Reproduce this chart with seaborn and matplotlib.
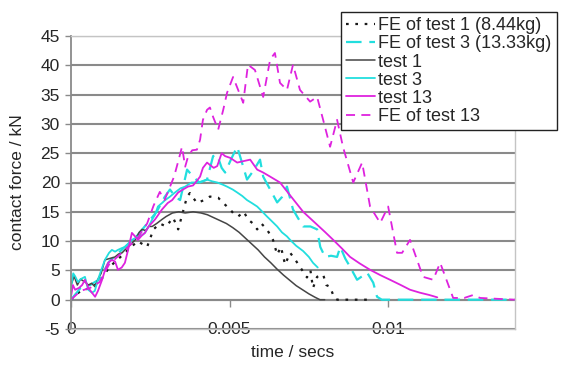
import matplotlib
matplotlib.use("Agg")
import matplotlib.pyplot as plt
import seaborn as sns
import numpy as np

# ---------------- data (time in seconds, force in kN) ----------------
t_test1 = [0, 0.0001, 0.0002, 0.0003, 0.00045, 0.00055, 0.00065, 0.00076, 0.00085, 0.00095,
           0.00107, 0.0012, 0.00139, 0.0015, 0.00161, 0.0017, 0.0018, 0.0019, 0.00202, 0.00215,
           0.00224, 0.00235, 0.00245, 0.00256, 0.0027, 0.00287, 0.003, 0.0032, 0.0034, 0.0036,
           0.00385, 0.0041, 0.0043, 0.0045, 0.0047, 0.0049, 0.0051, 0.0053, 0.0055, 0.0057,
           0.0059, 0.0061, 0.0063, 0.0065, 0.0067, 0.0069, 0.0071, 0.0073, 0.0075, 0.0077,
           0.00785, 0.008]
f_test1 = [2.5, 4, 2.5, 3.5, 3, 2.5, 2.8, 2.2, 3.5, 4.5,
           6.8, 7, 7.3, 7.8, 8, 8.5, 9, 9.5, 10.2, 11.5,
           12, 11.8, 12.5, 12.5, 13, 13.7, 14.2, 14.8, 15, 14.8,
           15, 14.8, 14.5, 14, 13.5, 13, 12.3, 11.5, 10.5, 9.5,
           8.5, 7.3, 6.3, 5.2, 4.2, 3.3, 2.4, 1.7, 1, 0.4,
           0, 0]

t_test3 = [0, 0.00007, 0.00013, 0.00022, 0.0003, 0.00044, 0.00054, 0.00066, 0.00075, 0.00085,
           0.00095, 0.00107, 0.0012, 0.00129, 0.00139, 0.00148, 0.0016, 0.0017, 0.0018, 0.00192,
           0.00202, 0.00211, 0.00224, 0.00233, 0.00245, 0.00256, 0.00265, 0.00274, 0.00287, 0.00297,
           0.0031, 0.00328, 0.00345, 0.0036, 0.0038, 0.00397, 0.00415, 0.00429, 0.00445, 0.00461,
           0.0048, 0.00492, 0.0051, 0.00524, 0.0054, 0.00555, 0.0057, 0.00587, 0.006, 0.00618,
           0.00635, 0.0065, 0.00665, 0.00681, 0.00691, 0.0071, 0.00732, 0.0075, 0.00763, 0.00778]
f_test3 = [2, 4.5, 4, 3, 3.5, 3.9, 1.7, 1.2, 1.5, 3.4,
           5, 6.8, 8, 8.5, 8.2, 8.5, 8.8, 9, 9.5, 10.2,
           10.5, 10.8, 11, 11.4, 12.5, 13.7, 14.5, 15.9, 16.5, 17,
           17.5, 18.3, 19, 19.3, 20, 20, 20.2, 20.5, 20.2, 20,
           19.6, 19.3, 18.8, 18.3, 17.7, 17, 16.5, 15.9, 15.2, 14.2,
           13.3, 12.5, 11.5, 10.8, 10.2, 9.2, 8.3, 7.3, 6.3, 5.5]

t_test13 = [0, 0.00006, 0.00013, 0.00025, 0.00035, 0.00044, 0.00055, 0.00066, 0.00076, 0.00085,
            0.00098, 0.00107, 0.00117, 0.00129, 0.00139, 0.00148, 0.0016, 0.0017, 0.0018, 0.00192,
            0.00202, 0.00211, 0.00224, 0.00233, 0.00245, 0.00265, 0.00287, 0.00305, 0.00319, 0.00338,
            0.00353, 0.00369, 0.00385, 0.00397, 0.00407, 0.00416, 0.00429, 0.00438, 0.0045, 0.00461,
            0.00475, 0.00486, 0.00502, 0.00524, 0.0054, 0.00565, 0.00587, 0.00606, 0.00628, 0.00659,
            0.00691, 0.00713, 0.00732, 0.00754, 0.00776, 0.008, 0.00827, 0.00855, 0.0088, 0.0091,
            0.00943, 0.00975, 0.01006, 0.0104, 0.01069, 0.011, 0.0113, 0.01155]
f_test13 = [0.5, 2.5, 1.7, 2, 2.5, 3.4, 2, 1.2, 0.5, 1.5,
            3.4, 5, 6.3, 6.8, 6.5, 5.1, 5.5, 6.3, 8.5, 11.4,
            10.8, 10.2, 11, 11.4, 12.5, 13.7, 15.4, 16.5, 17, 18.3,
            18.8, 19.3, 19.5, 20.3, 21, 22.5, 23.4, 23.0, 22.5, 22.8,
            25, 24.5, 24.2, 23.4, 23.6, 23.9, 22.2, 21.7, 21, 20,
            17.8, 16.3, 15, 13.9, 12.8, 11.6, 10.2, 8.7, 7.3, 6.2,
            5.1, 4.2, 3.4, 2.5, 1.7, 1.2, 0.8, 0.4]

t_fe1 = [0, 0.0003, 0.0006, 0.0009, 0.0012, 0.0015, 0.0018, 0.0021, 0.0024, 0.0026,
         0.0028, 0.003, 0.00322, 0.00338, 0.00366, 0.00375, 0.00397, 0.0042, 0.00438, 0.00464,
         0.0048, 0.00502, 0.00511, 0.00527, 0.00545, 0.00558, 0.00574, 0.00587, 0.006, 0.00618,
         0.00637, 0.0065, 0.00662, 0.00675, 0.00691, 0.00705, 0.00722, 0.00744, 0.00755, 0.00763,
         0.00776, 0.00795, 0.00805, 0.00817, 0.0083, 0.0084, 0.0095]
f_fe1 = [0, 1.5, 2, 3, 5.5, 7, 8.5, 10, 9, 12,
         13, 12.5, 14, 12, 17.6, 18.2, 16.5, 17, 17.6, 17.4,
         16.5, 15.4, 14.8, 14.2, 15, 13.7, 13, 12, 13, 12,
         10.2, 7.7, 9, 6, 8, 7, 5.6, 3.8, 5, 2,
         3.9, 4.3, 2.5, 2.2, 0.3, 0, 0]

t_fe3 = [0, 0.0003, 0.0006, 0.0009, 0.0012, 0.0015, 0.0018, 0.0021, 0.0024, 0.0027,
         0.00295, 0.00312, 0.0033, 0.00344, 0.00366, 0.00385, 0.00405, 0.00429, 0.00448, 0.00461,
         0.00475, 0.00486, 0.00505, 0.00524, 0.00543, 0.00555, 0.00575, 0.00596, 0.00606, 0.00628,
         0.0065, 0.00665, 0.00681, 0.007, 0.00715, 0.00732, 0.00755, 0.00776, 0.00786, 0.00801,
         0.0082, 0.00839, 0.00849, 0.00865, 0.0088, 0.00902, 0.00918, 0.00934, 0.00953, 0.00965,
         0.0098, 0.014]
f_fe3 = [0, 2, 2.5, 3.5, 6.5, 8, 9.5, 11, 13, 15,
         17.5, 18.8, 17.5, 17, 22.2, 21, 20, 20.5, 24.5, 24.7,
         22.5, 21.7, 24, 26.1, 22.7, 20.5, 22, 23.9, 21, 18.8,
         16.6, 17.5, 19.3, 15.4, 14, 12.5, 12.5, 12, 9, 7.3,
         7.5, 7.3, 9, 7, 5.6, 3.4, 4, 4.6, 2.9, 0.5,
         0, 0]

t_fe13 = [0, 0.0003, 0.0006, 0.0009, 0.0012, 0.0015, 0.0018, 0.0021, 0.0024, 0.0026,
          0.0028, 0.00295, 0.0031, 0.00325, 0.0034, 0.0035, 0.0036, 0.00369, 0.00382, 0.00397,
          0.00407, 0.00416, 0.00429, 0.00438, 0.00448, 0.00464, 0.0048, 0.00492, 0.00511, 0.00527,
          0.00543, 0.00558, 0.0058, 0.00606, 0.00628, 0.00643, 0.00659, 0.00681, 0.007, 0.00722,
          0.00754, 0.00776, 0.00795, 0.00817, 0.00839, 0.00858, 0.0089, 0.00918, 0.00943, 0.00975,
          0.01, 0.01028, 0.01044, 0.01069, 0.0111, 0.01142, 0.01164, 0.01205, 0.01240, 0.01268,
          0.0129, 0.014]
f_fe13 = [0, 1.5, 2, 3, 6, 7.5, 9, 10.5, 13, 16,
          18.4, 17, 19, 21, 24, 26.1, 22.7, 24.4, 25.5, 25.6,
          27.3, 30.7, 32.4, 32.8, 31.2, 29, 32.4, 35.3, 38, 35.8,
          33.6, 40.1, 39.2, 34.6, 41, 42.1, 37, 35.8, 40.1, 35.8,
          33.8, 34.6, 30.7, 26.1, 30.7, 26, 20, 23.4, 15.9, 13.1,
          15.9, 8, 8, 10.2, 3.9, 3.4, 6.3, 0.3, 0.3, 0.8,
          0.3, 0]

legend_labels = ["FE of test 1 (8.44kg)", "FE of test 3 (13.33kg)", "test 1",
                 "test 3", "test 13", "FE of test 13"]
y_ticks = [-5, 0, 5, 10, 15, 20, 25, 30, 35, 40, 45]
x_ticks = [0, 0.005, 0.01]
x_tick_labels = ["0", "0.005", "0.01"]

# ---------------- style ----------------
sns.set_style("white")
plt.rcParams["font.family"] = ["Liberation Sans", "DejaVu Sans"]
plt.rcParams["axes.unicode_minus"] = False

CYAN = "#22DEDE"
MAGENTA = "#DE22DE"
DARK = "#454545"
BLACK = "#1A1A1A"
GRID = "#8A8A8A"
BORDER = "#C4C4C4"

fig = plt.figure(figsize=(5.73, 3.68), dpi=100)
ax = fig.add_axes([71 / 573, 1 - 329 / 368, 444 / 573, 293 / 368])

series = [
    (t_fe1, f_fe1, BLACK, (0, (1.2, 3.0)), 1.6),
    (t_fe3, f_fe3, CYAN, (0, (7.0, 3.5)), 1.6),
    (t_test1, f_test1, DARK, "-", 1.1),
    (t_test3, f_test3, CYAN, "-", 1.3),
    (t_test13, f_test13, MAGENTA, "-", 1.3),
    (t_fe13, f_fe13, MAGENTA, (0, (5.0, 3.5)), 1.3),
]
handles = []
for (tx, fy, col, ls, lw), lab in zip(series, legend_labels):
    sns.lineplot(x=np.array(tx), y=np.array(fy), ax=ax, color=col, linestyle=ls,
                 linewidth=lw, sort=False, estimator=None, label=lab, legend=False)
    handles.append(ax.lines[-1])

ax.set_xlim(0, 0.014)
ax.set_ylim(-5, 45)
ax.set_yticks(y_ticks)
ax.set_xticks(x_ticks)
ax.set_xticklabels(x_tick_labels)

ax.grid(True, axis="y", color=GRID, linewidth=1.5)
ax.grid(False, axis="x")
ax.set_axisbelow(True)
for tk in ax.yaxis.get_major_ticks():
    if tk.get_loc() in (-5, 45):
        tk.gridline.set_visible(False)

for side in ("top", "right", "bottom"):
    ax.spines[side].set_color(BORDER)
    ax.spines[side].set_linewidth(1.0)
ax.spines["left"].set_color(GRID)
ax.spines["left"].set_linewidth(1.3)

ax.tick_params(axis="y", direction="out", length=4.5, width=1.0, color=GRID,
               labelsize=12.5, pad=3.5, left=True)
ax.tick_params(axis="x", length=0, labelsize=12.5, pad=-4.8)

sec = ax.secondary_xaxis(0.1)
sec.set_xticks(x_ticks)
sec.set_xticklabels([])
sec.tick_params(axis="x", direction="out", length=5, width=1.0, color=GRID)
sec.spines["bottom"].set_color(GRID)
sec.spines["bottom"].set_linewidth(1.5)

ax.set_ylabel("contact force / kN", fontsize=12.5)
ax.yaxis.set_label_coords(-0.104, 0.5)
ax.set_xlabel("time / secs", fontsize=12.5)
ax.xaxis.set_label_coords(0.5, -0.053)

leg = fig.legend(handles=handles, labels=legend_labels, loc="upper left",
                 bbox_to_anchor=(341 / 573, 1 - 12 / 368), bbox_transform=fig.transFigure,
                 borderaxespad=0, frameon=True, fancybox=False, fontsize=13,
                 labelspacing=0.06, handlelength=1.6, handletextpad=0.15,
                 borderpad=0.3)
leg.get_frame().set_edgecolor("#222222")
leg.get_frame().set_linewidth(1.0)
leg.get_frame().set_alpha(1)

fig.savefig("out.png", dpi=100)
